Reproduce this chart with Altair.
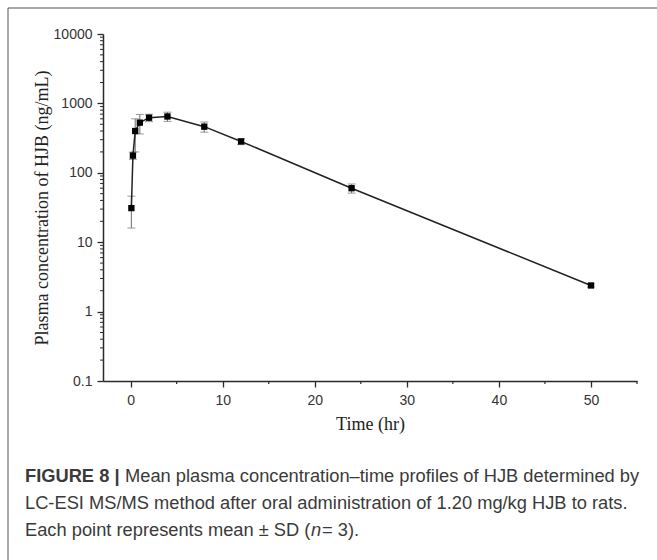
import altair as alt
import pandas as pd

# ---- data ----
time_hr = [0.083, 0.25, 0.5, 1, 2, 4, 8, 12, 24, 50]
mean_conc = [31, 177, 400, 528, 622, 648, 462, 283, 60, 2.38]
sd_conc = [15, 21, 200, 165, 75, 98, 77, 28, 9, 0.12]

x_major = [0, 10, 20, 30, 40, 50]
x_minor = [5, 15, 25, 35, 45, 55]
y_major = [0.1, 1, 10, 100, 1000, 10000]
y_minor = [m * 10 ** k for k in range(-1, 4) for m in range(2, 10)]

caption_bold = "FIGURE 8 |"
caption_1 = "Mean plasma concentration\u2013time profiles of HJB determined by"
caption_2 = "LC-ESI MS/MS method after oral administration of 1.20 mg/kg HJB to rats."
caption_3a = "Each point represents mean \u00b1 SD ("
caption_3b = "n"
caption_3c = " = 3)."

df = pd.DataFrame({"t": time_hr, "c": mean_conc, "sd": sd_conc})
df["lo"] = df["c"] - df["sd"]
df["hi"] = df["c"] + df["sd"]

W, H = 534, 347
PL, PT = 103, 34

xs = alt.Scale(domain=[-3, 55], nice=False, zero=False)
ys = alt.Scale(type="log", domain=[0.1, 10000], nice=False)

serif = "Liberation Serif"
sans = "Liberation Sans"
axis_col = "#2a2a2a"

xaxis = alt.Axis(values=x_major, format="d", grid=False, tickSize=6, tickColor=axis_col,
                 domainColor=axis_col, domainWidth=1.5, tickWidth=1.3,
                 labelFont=sans, labelFontSize=14, labelColor="#333", labelPadding=6,
                 title="Time (hr)", titleFont=serif, titleFontSize=18, titleFontWeight="normal",
                 titleColor="#222", titlePadding=8)
yaxis = alt.Axis(values=y_major, format="~g", grid=False, tickSize=6, tickColor=axis_col,
                 domainColor=axis_col, domainWidth=1.5, tickWidth=1.3,
                 labelFont=sans, labelFontSize=14, labelColor="#333", labelPadding=5,
                 title="Plasma concentration of HJB (ng/mL)", titleFont=serif, titleFontSize=18,
                 titleFontWeight="normal", titleColor="#222", titlePadding=2)

base = alt.Chart(df)

bars = base.mark_rule(color="#7a7a7a", strokeWidth=1.1).encode(
    x=alt.X("t:Q", scale=xs, axis=xaxis),
    y=alt.Y("lo:Q", scale=ys, axis=yaxis),
    y2="hi:Q",
)
cap_lo = base.mark_tick(orient="horizontal", color="#7a7a7a", size=8, thickness=1.1).encode(
    x=alt.X("t:Q", scale=xs), y=alt.Y("lo:Q", scale=ys))
cap_hi = base.mark_tick(orient="horizontal", color="#7a7a7a", size=8, thickness=1.1).encode(
    x=alt.X("t:Q", scale=xs), y=alt.Y("hi:Q", scale=ys))
line = base.mark_line(color="#222", strokeWidth=1.5).encode(
    x=alt.X("t:Q", scale=xs), y=alt.Y("c:Q", scale=ys))
pts = base.mark_square(color="#000", size=40, opacity=1).encode(
    x=alt.X("t:Q", scale=xs), y=alt.Y("c:Q", scale=ys))

xminor = alt.Chart(pd.DataFrame({"v": x_minor})).mark_rule(color=axis_col, strokeWidth=1.2).encode(
    x=alt.X("v:Q", scale=xs), y=alt.value(H), y2=alt.value(H + 3))
yminor = alt.Chart(pd.DataFrame({"v": y_minor})).mark_rule(color=axis_col, strokeWidth=1).encode(
    y=alt.Y("v:Q", scale=ys), x=alt.value(0), x2=alt.value(-3))

one = pd.DataFrame({"a": [0]})
frame_top = alt.Chart(one).mark_rule(color="#555", strokeWidth=1).encode(
    x=alt.value(8 - PL), x2=alt.value(657 - PL), y=alt.value(8 - PT))
frame_left = alt.Chart(one).mark_rule(color="#555", strokeWidth=1).encode(
    x=alt.value(8 - PL), y=alt.value(8 - PT), y2=alt.value(560 - PT))

cap_font = "Liberation Sans"
def txt(s, x, y, weight="normal", style="normal"):
    return alt.Chart(one).mark_text(text=s, align="left", baseline="middle", font=cap_font,
                                    fontSize=18.3, fontWeight=weight, fontStyle=style,
                                    color="#3a3a3a").encode(x=alt.value(x - PL), y=alt.value(y - PT))

L1, L2, L3 = 477, 504, 531
captions = (txt(caption_bold, 25, L1, weight="bold") + txt(caption_1, 125, L1)
            + txt(caption_2, 25, L2) + txt(caption_3a, 25, L3)
            + txt(caption_3b, 311, L3, style="italic") + txt(caption_3c, 322, L3))

chart = alt.layer(bars, cap_lo, cap_hi, line, pts, xminor, yminor,
                  frame_top, frame_left, captions).properties(
    width=W, height=H,
    autosize=alt.AutoSizeParams(type="none"),
    padding={"left": PL, "top": PT, "right": 657 - PL - W, "bottom": 560 - PT - H},
    background="white",
).configure_view(stroke=None)

chart.save("out.html", embed_options={"renderer": "svg", "actions": False})
